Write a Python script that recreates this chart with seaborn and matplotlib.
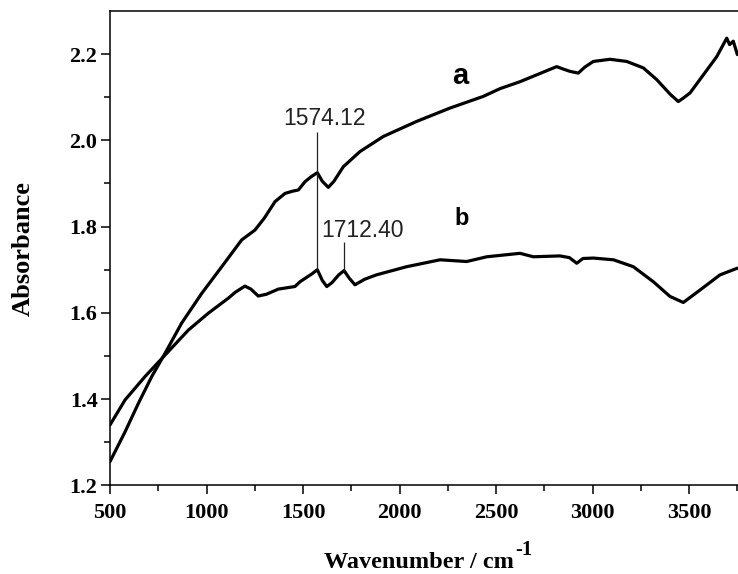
import numpy as np
import pandas as pd
import matplotlib
matplotlib.use("Agg")
import matplotlib.pyplot as plt
import matplotlib.transforms as mtransforms
import seaborn as sns

# ---- spectra (wavenumber in cm^-1, absorbance) ----
wn_a = [500, 578, 647, 716, 785, 871, 975, 1079, 1182, 1251, 1300, 1355, 1407,
        1445, 1476, 1510, 1540, 1574.12, 1600, 1631, 1660, 1709, 1795, 1916,
        2089, 2262, 2434, 2521, 2624, 2700, 2814, 2850, 2883, 2926, 2960, 3004,
        3090, 3177, 3263, 3332, 3402, 3444, 3470, 3505, 3574, 3643, 3695, 3710,
        3729, 3750, 3780]
abs_a = [1.255, 1.324, 1.390, 1.452, 1.506, 1.576, 1.645, 1.707, 1.769, 1.792,
         1.820, 1.858, 1.877, 1.882, 1.885, 1.904, 1.915, 1.925, 1.905, 1.891,
         1.905, 1.939, 1.974, 2.009, 2.044, 2.075, 2.102, 2.120, 2.136, 2.150,
         2.171, 2.165, 2.160, 2.156, 2.170, 2.183, 2.188, 2.183, 2.168, 2.141,
         2.107, 2.090, 2.098, 2.110, 2.152, 2.194, 2.237, 2.222, 2.230, 2.199,
         2.200]

wn_b = [500, 578, 681, 785, 906, 1009, 1113, 1150, 1199, 1230, 1268, 1310, 1372,
        1458, 1484, 1545, 1574.12, 1600, 1623, 1650, 1685, 1712.40, 1740, 1769,
        1820, 1880, 2037, 2210, 2348, 2452, 2624, 2693, 2831, 2880, 2918, 2950,
        3004, 3108, 3211, 3315, 3401, 3470, 3557, 3660, 3747, 3780]
abs_b = [1.340, 1.398, 1.452, 1.502, 1.560, 1.599, 1.634, 1.648, 1.662, 1.655,
         1.639, 1.643, 1.655, 1.661, 1.672, 1.690, 1.700, 1.675, 1.661, 1.670,
         1.688, 1.698, 1.680, 1.665, 1.678, 1.688, 1.707, 1.723, 1.719, 1.730,
         1.738, 1.730, 1.732, 1.728, 1.715, 1.726, 1.727, 1.723, 1.707, 1.672,
         1.638, 1.624, 1.653, 1.688, 1.703, 1.706]

# labelled peaks of spectrum b and the top ends of their marker lines
peak_wn = [1574.12, 1712.40]
peak_labels = ["1574.12", "1712.40"]
peak_line_top = [2.019, 1.765]

x_ticks = [500, 1000, 1500, 2000, 2500, 3000, 3500]
x_tick_labels = ["500", "1000", "1500", "2000", "2500", "3000", "3500"]
y_ticks = [1.2, 1.4, 1.6, 1.8, 2.0, 2.2]
y_tick_labels = ["1.2", "1.4", "1.6", "1.8", "2.0", "2.2"]

df = pd.concat([
    pd.DataFrame({"wavenumber": wn_a, "absorbance": abs_a, "sample": "a"}),
    pd.DataFrame({"wavenumber": wn_b, "absorbance": abs_b, "sample": "b"}),
], ignore_index=True)

sns.set_theme(style="ticks")
plt.rcParams["font.family"] = ["Liberation Serif", "DejaVu Serif"]
plt.rcParams["text.color"] = "black"
plt.rcParams["axes.labelcolor"] = "black"
plt.rcParams["xtick.color"] = "black"
plt.rcParams["ytick.color"] = "black"

W, H = 738, 574
fig = plt.figure(figsize=(W / 100, H / 100), dpi=100)
ax = fig.add_axes([110 / W, 88.7 / H, 637 / W, 474.3 / H])

sns.lineplot(data=df, x="wavenumber", y="absorbance", hue="sample",
             palette={"a": "black", "b": "black"}, estimator=None, sort=False,
             legend=False, linewidth=2.3, ax=ax)

ax.set_xlim(500, 3800)
ax.set_ylim(1.2, 2.3)
ax.set_xticks(x_ticks)
ax.set_xticklabels(x_tick_labels, fontweight="bold")
ax.set_yticks(y_ticks)
ax.set_yticklabels(y_tick_labels, fontweight="bold")
ax.set_xticks(np.arange(750, 3800, 500), minor=True)
ax.set_yticks(np.arange(1.3, 2.3, 0.2), minor=True)

ax.tick_params(which="major", direction="out", length=6.5, width=1.1,
               labelsize=16)
ax.tick_params(axis="x", which="major", pad=6.5)
ax.tick_params(axis="y", which="major", pad=2.5)
ax.tick_params(which="minor", direction="out", length=4.3, width=1.1)
ax.tick_params(top=False, right=False, which="both")

for side in ["left", "bottom", "top"]:
    ax.spines[side].set_visible(True)
    ax.spines[side].set_linewidth(1.1)
    ax.spines[side].set_color("black")
ax.spines["right"].set_visible(False)

ax.set_xlabel("Wavenumber / cm", fontsize=17.5, fontweight="bold")
ax.xaxis.set_label_coords(0.485, -0.140)
ax.set_ylabel("Absorbance", fontsize=19, fontweight="bold")
ax.yaxis.set_label_coords(-0.118, 0.5)

# peak marker lines and their labels
sans = ["Liberation Sans", "DejaVu Sans"]
for wn, top, lab, (tx, ty) in zip(peak_wn, peak_line_top, peak_labels,
                                  [(1609, 2.050), (1806, 1.792)]):
    bottom = np.interp(wn, wn_b, abs_b)
    ax.vlines(wn, bottom, top, color="#222222", linewidth=0.9)
    ax.text(tx, ty, lab, family=sans, fontsize=16.5, color="#222222",
            ha="center", va="center")

ax.text(2316, 2.149, "a", family=sans, fontsize=21, fontweight="bold",
        ha="center", va="center")
ax.text(2321, 1.818, "b", family=sans, fontsize=17, fontweight="bold",
        ha="center", va="center")

# superscript of the axis unit, placed right after the x label
fig.canvas.draw()
bb = ax.xaxis.label.get_window_extent()
fig.text(bb.x1 + 1, bb.y0 + 18, "-1", fontsize=15, fontweight="bold",
         ha="left", va="baseline", transform=mtransforms.IdentityTransform())

fig.savefig("out.png", dpi=100)
